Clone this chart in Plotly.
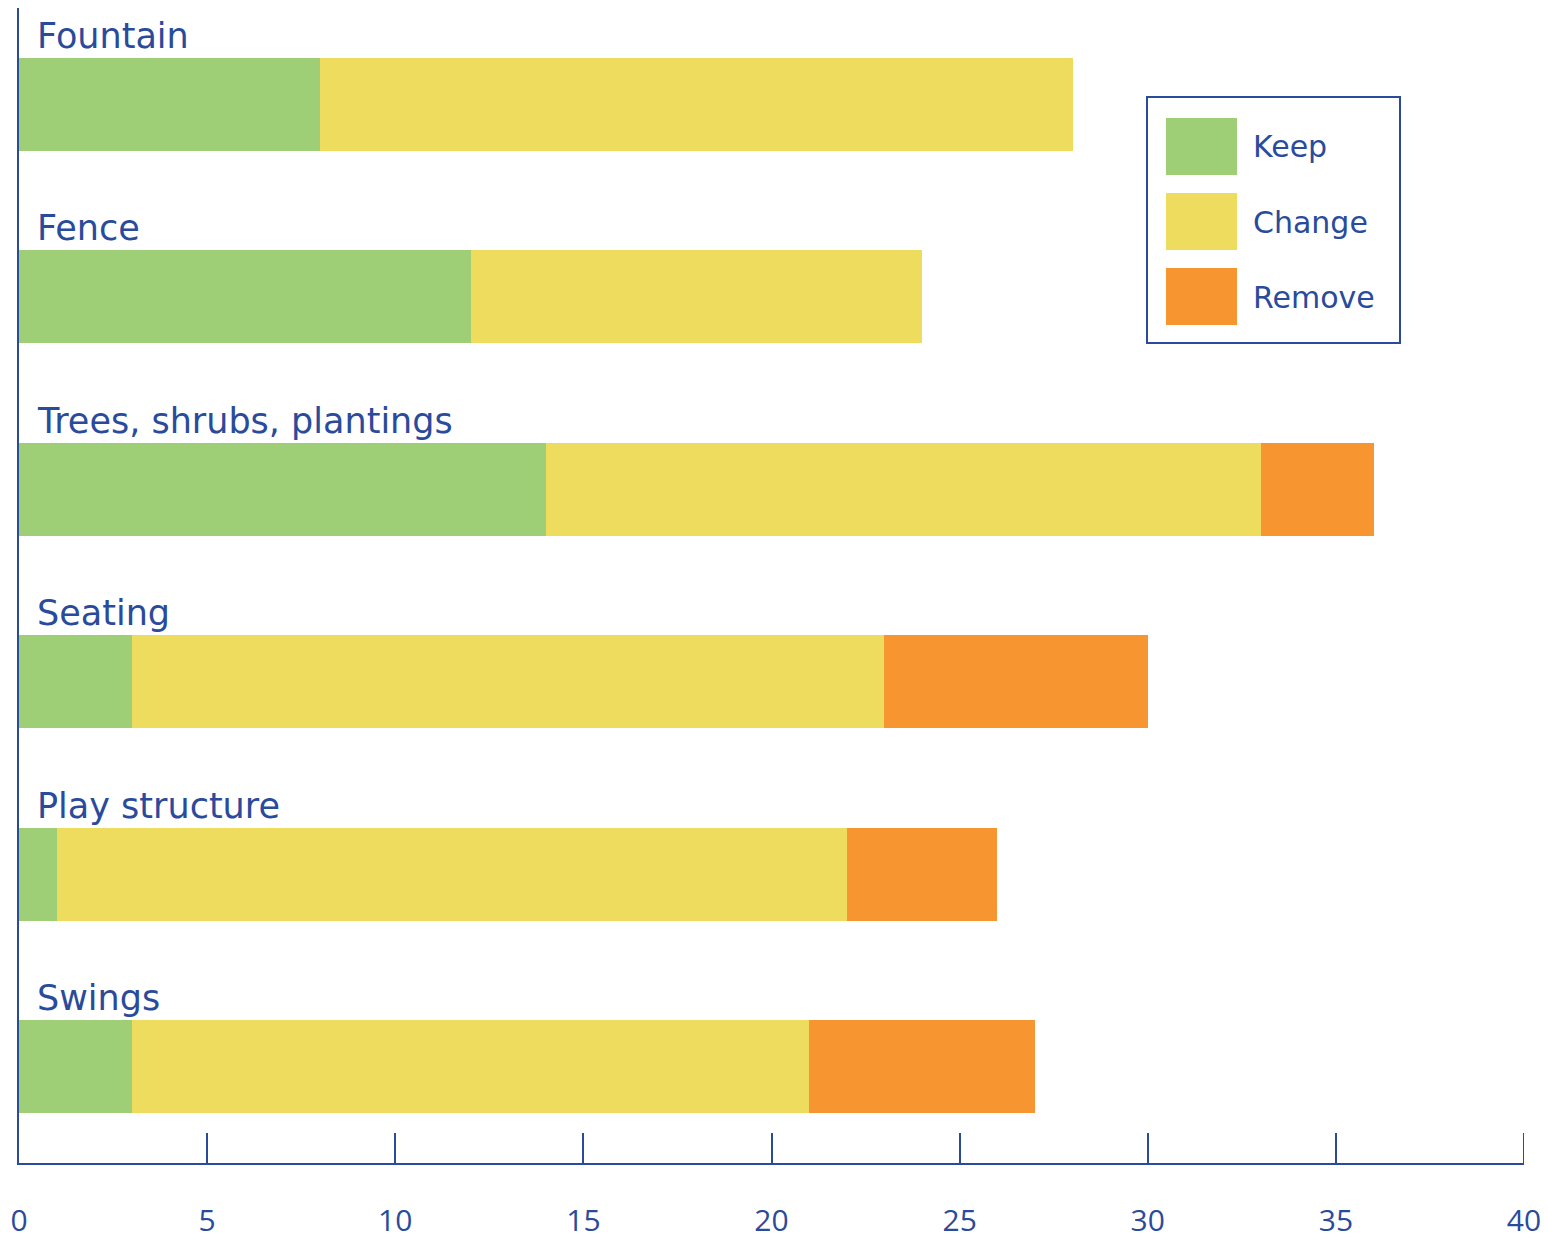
import plotly.graph_objects as go

categories = ["Fountain", "Fence", "Trees, shrubs, plantings", "Seating", "Play structure", "Swings"]
keep = [8, 12, 14, 3, 1, 3]
change = [20, 12, 19, 20, 21, 18]
remove = [0, 0, 3, 7, 4, 6]
series_names = ["Keep", "Change", "Remove"]
tick_vals = [0, 5, 10, 15, 20, 25, 30, 35, 40]

colors = {"Keep": "#9ecf76", "Change": "#eddc5d", "Remove": "#f79530"}
BLUE = "#2a4b9b"
W, H = 1548, 1240
ML, MR, MT, MB = 19, 24, 8, 77
FONT = "DejaVu Sans"

ypos = list(range(len(categories)))
fig = go.Figure()
for name, vals in zip(series_names, [keep, change, remove]):
    fig.add_trace(go.Bar(
        y=ypos, x=vals, name=name, orientation="h",
        marker=dict(color=colors[name], line=dict(width=0)),
        width=0.483, showlegend=False,
    ))

# category labels above bars
for i, c in enumerate(categories):
    fig.add_annotation(x=0, y=i - 0.2415, xref="x", yref="y", text=c,
                       showarrow=False, xanchor="left", yanchor="bottom",
                       xshift=16, yshift=0,
                       font=dict(family=FONT, size=35, color=BLUE))

# legend drawn manually (pixel helpers)
pw, ph = W - ML - MR, H - MT - MB
def px(x): return (x - ML) / pw
def py(y): return (H - MB - y) / ph

fig.add_shape(type="rect", xref="paper", yref="paper",
              x0=px(1147), x1=px(1400), y0=py(97), y1=py(343),
              line=dict(color=BLUE, width=2), fillcolor="white", layer="above")
sw_tops = [118, 193, 268]
for name, t in zip(series_names, sw_tops):
    fig.add_shape(type="rect", xref="paper", yref="paper",
                  x0=px(1166), x1=px(1237), y0=py(t), y1=py(t + 57),
                  line=dict(width=0), fillcolor=colors[name], layer="above")
    fig.add_annotation(xref="paper", yref="paper", x=px(1251), y=py(t + 29),
                       text=name, showarrow=False, xanchor="left", yanchor="middle",
                       font=dict(family=FONT, size=30, color=BLUE))

# tick mark at the right end of the axis (plotly skips it at the range edge)
fig.add_shape(type="line", xref="x", yref="paper", x0=tick_vals[-1], x1=tick_vals[-1],
              y0=0, y1=30 / ph, line=dict(color=BLUE, width=2))

fig.update_layout(
    width=W, height=H, barmode="stack",
    margin=dict(l=ML, r=MR, t=MT, b=MB, autoexpand=False),
    plot_bgcolor="white", paper_bgcolor="white",
    bargap=0,
    xaxis=dict(range=[0, 40], tickvals=tick_vals, ticks="inside", ticklen=30,
               tickwidth=2, tickcolor=BLUE, showline=True, linecolor=BLUE,
               linewidth=2, showgrid=False, zeroline=False, automargin=False,
               ticklabelstandoff=30,
               tickfont=dict(family="Open Sans", size=30, color=BLUE)),
    yaxis=dict(range=[5.5, -0.5], showticklabels=False, ticks="",
               showline=True, linecolor=BLUE, linewidth=2, automargin=False,
               showgrid=False, zeroline=False),
)

fig.write_html("out.html", config={"displayModeBar": False},
               post_script="document.body.style.margin='0';")
